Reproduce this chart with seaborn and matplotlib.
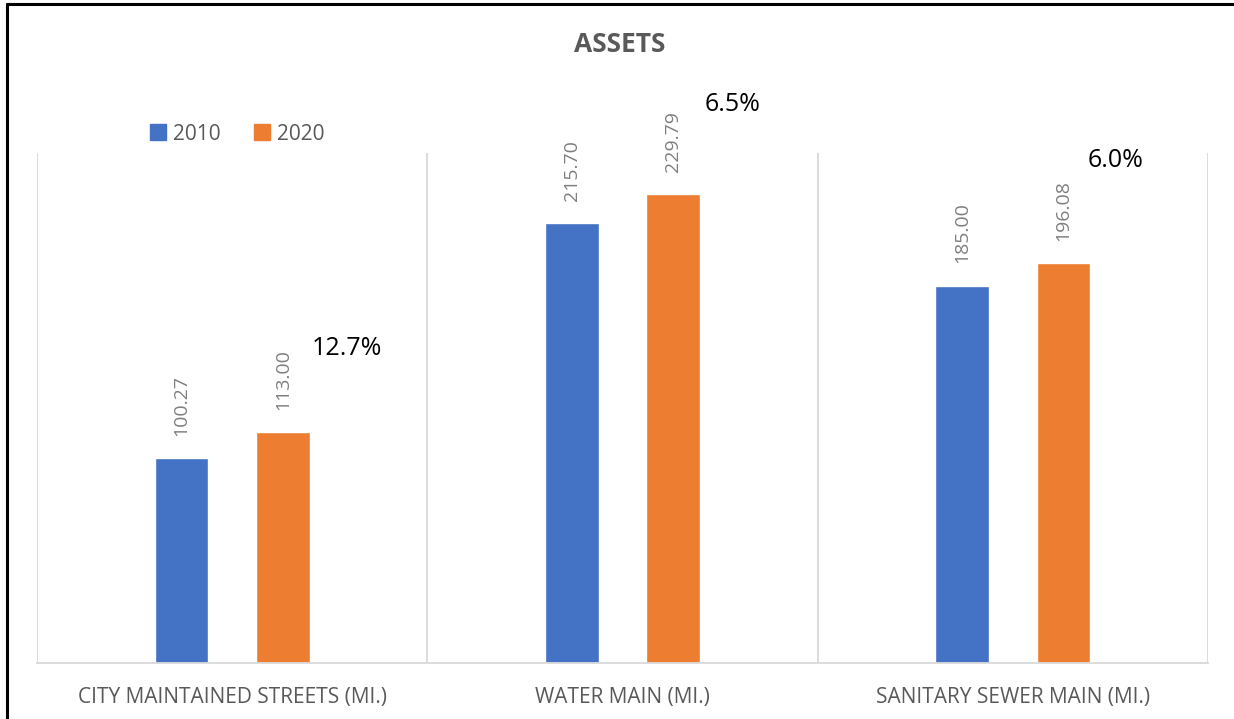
import pandas as pd
import seaborn as sns
import matplotlib.pyplot as plt
from matplotlib.lines import Line2D

categories = ['CITY MAINTAINED STREETS (MI.)', 'WATER MAIN (MI.)', 'SANITARY SEWER MAIN (MI.)']
years = ['2010', '2020']
values_2010 = [100.27, 215.70, 185.00]
values_2020 = [113.00, 229.79, 196.08]

# where the % change notes sit, relative to the category centre / the 2020 bar
pct_dx = [0.294, 0.283, 0.262]
pct_dy = [41, 44, 50]

df = pd.DataFrame({
    'category': categories * 2,
    'year': [years[0]] * 3 + [years[1]] * 3,
    'value': values_2010 + values_2020,
})

sns.set_style('white')
plt.rcParams['font.family'] = ['Open Sans', 'DejaVu Sans']

fig = plt.figure(figsize=(12.34, 7.19), dpi=100)
ax = fig.add_axes([37 / 1234, 56 / 719, 1171 / 1234, 510 / 719])

sns.barplot(data=df, x='category', y='value', hue='year', order=categories,
            palette=['#4472C4', '#ED7D31'], saturation=1, width=0.52, gap=0.47,
            errorbar=None, ax=ax, legend=False)

ax.set_xlim(-0.5, 2.5)
ax.set_ylim(0, 250)
for x in [-0.5, 0.5, 1.5, 2.5]:
    ax.axvline(x, color='#d9d9d9', lw=1.3, zorder=0)
for s in ['top', 'left', 'right']:
    ax.spines[s].set_visible(False)
ax.spines['bottom'].set_color('#d9d9d9')
ax.spines['bottom'].set_linewidth(1.3)
ax.set_yticks([])
ax.set_xlabel('')
ax.set_ylabel('')
ax.tick_params(axis='x', length=0, pad=17, labelsize=15, labelcolor='#595959')

for cont in ax.containers:
    ax.bar_label(cont, fmt='%.2f', rotation=90, padding=16, color='#7f7f7f', fontsize=14)

for i in range(len(categories)):
    pct = (values_2020[i] - values_2010[i]) / values_2010[i] * 100
    ax.text(i + pct_dx[i], values_2020[i] + pct_dy[i], f'{pct:.1f}%', ha='center', va='center',
            fontsize=18, color='black', clip_on=False)

handles = [Line2D([], [], marker='s', ls='', markersize=11, color=c) for c in ['#4472C4', '#ED7D31']]
fig.legend(handles, years, loc='center left', bbox_to_anchor=(129 / 1234, 1 - 134 / 719),
           ncol=2, frameon=False, fontsize=15, labelcolor='#595959', handletextpad=0.2,
           columnspacing=1.5, handlelength=1.0)

fig.text(620 / 1234, 1 - 44 / 719, 'ASSETS', ha='center', va='center', fontsize=19,
         fontweight='bold', color='#595959')

# chart border (only top and left edges show in the picture)
fig.add_artist(Line2D([7 / 1234, 7 / 1234], [0, 1 - 4 / 719], color='black', lw=2.2, transform=fig.transFigure))
fig.add_artist(Line2D([7 / 1234, 1], [1 - 4 / 719, 1 - 4 / 719], color='black', lw=2.2, transform=fig.transFigure))

fig.savefig('out.png', dpi=100)
